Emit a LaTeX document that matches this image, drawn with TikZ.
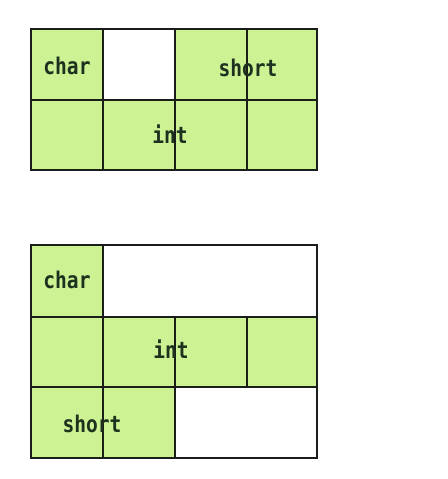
\documentclass[tikz,border=0pt]{standalone}
\usepackage{fontspec}
\newfontfamily\cellfont[FakeStretch=0.85]{DejaVu Sans Mono}
\definecolor{cellgreen}{RGB}{204,242,148}
\definecolor{gridline}{RGB}{25,30,25}
\definecolor{labeltext}{RGB}{30,48,30}
\tikzset{
	cell/.style={fill=cellgreen},
	grid/.style={draw=gridline, line width=1.3pt},
	field/.style={text=labeltext, font=\cellfont\bfseries\fontsize{23}{23}\selectfont, inner sep=0pt}
}

\begin{document}
\begin{tikzpicture}[x=1pt,y=-1pt]
		\useasboundingbox[fill=white] (0,0) rectangle (447,479);
		% first layout: char, padding, short, int
		\fill[cell] (31,29) rectangle (103,100);
		\fill[cell] (175,29) rectangle (317,100);
		\fill[cell] (31,100) rectangle (317,170);
		\draw[grid] (31,29) rectangle (317,170);
		\draw[grid] (31,100) -- (317,100);
		\draw[grid] (103,29) -- (103,170);
		\draw[grid] (175,29) -- (175,170);
		\draw[grid] (247,29) -- (247,170);
		\draw[grid, line width=2.6pt] (317,29) -- (317,170);
		\node[field] (charA) at (67,66) {char};
		\node[field] (shortA) at (248,68) {short};
		\node[field] (intA) at (170,134) {int};
		% second layout: char, int, short
		\fill[cell] (31,245) rectangle (103,317);
		\fill[cell] (31,317) rectangle (317,387);
		\fill[cell] (31,387) rectangle (175,458);
		\draw[grid] (31,245) rectangle (317,458);
		\draw[grid] (31,317) -- (317,317);
		\draw[grid] (31,387) -- (317,387);
		\draw[grid] (103,245) -- (103,458);
		\draw[grid] (175,317) -- (175,458);
		\draw[grid] (247,317) -- (247,387);
		\node[field] (charB) at (67,280) {char};
		\node[field] (intB) at (171,349) {int};
		\node[field] (shortB) at (92,424) {short};
	\end{tikzpicture}
\end{document}
